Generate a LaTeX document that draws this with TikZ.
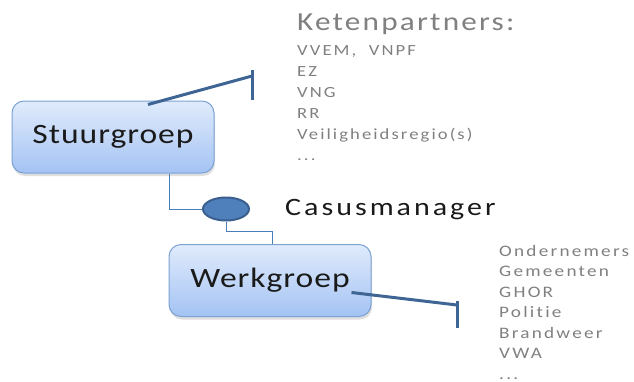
\documentclass[tikz,border=0pt]{standalone}
\usepackage{fontspec}
\setmainfont{Carlito}
% Carlito, widened, with different amounts of tracking
\defaultfontfeatures{Ligatures=NoCommon}
\newfontfamily\trackbox[FakeStretch=1.2,LetterSpace=3.5]{Carlito}
\newfontfamily\trackhead[FakeStretch=1.2,LetterSpace=8.5]{Carlito}
\newfontfamily\trackcm[FakeStretch=1.2,LetterSpace=12]{Carlito}
\newfontfamily\tracklist[FakeStretch=1.2,LetterSpace=13.5]{Carlito}
\newfontfamily\trackwide[FakeStretch=1.2,LetterSpace=14]{Carlito}
\usetikzlibrary{shapes.geometric,shadows}
\definecolor{boxtop}{HTML}{E0EBFC}
\definecolor{boxbot}{HTML}{A4C3F3}
\definecolor{boxline}{HTML}{7CA2D4}
\definecolor{barblue}{HTML}{3E6594}
\definecolor{treeblue}{HTML}{4A7EBB}
\definecolor{dotfill}{HTML}{4F80BC}
\definecolor{dotline}{HTML}{3A5F8E}
\definecolor{listgray}{HTML}{808080}
\definecolor{inkdark}{HTML}{1A1A1A}
\tikzset{
  groupbox/.style={draw=boxline, line width=1pt, rounded corners=12pt,
    top color=boxtop, bottom color=boxbot, minimum width=202pt, minimum height=72pt,
    text=inkdark, font=\trackbox\fontsize{28}{30}\selectfont,
    drop shadow={opacity=0.25, shadow xshift=1pt, shadow yshift=-3pt}},
  tbar/.style={draw=barblue, line width=3pt},
  tree/.style={draw=treeblue, line width=1pt},
  listtext/.style={text=listgray, align=left, inner sep=0pt, anchor=north west},
}
\begin{document}
\begin{tikzpicture}[x=1pt,y=-1pt]
\useasboundingbox (0,0) rectangle (634,381);

% group boxes
\node[groupbox] (stuur) at (113,137) {\raisebox{-2pt}{Stuurgroep}};
\node[groupbox] (werk) at (270,280.5) {\raisebox{-2pt}{Werkgroep}};

% case manager
\node[ellipse, draw=dotline, line width=2pt, fill=dotfill,
      minimum width=46pt, minimum height=23pt, inner sep=0pt] (cm) at (226,209) {};
\node[anchor=west, text=inkdark, inner sep=0pt, font=\trackcm\fontsize{25}{27}\selectfont]
  (cmlabel) at (285,210) {Casusmanager};

% tree connectors
\draw[tree] ([xshift=56pt]stuur.south) |- (cm.west);
\draw[tree] (cm.south) -- ++(0,10) -| ([xshift=2pt]werk.north);

% partner lists
\node[anchor=west, text=listgray, inner sep=0pt, font=\trackhead\fontsize{26}{28}\selectfont]
  (khead) at (297,24) {Ketenpartners:};
\node[listtext, font=\tracklist\fontsize{15.5}{21}\selectfont] (klist) at (297,45)
  {VVEM,\ \ VNPF\\EZ\\VNG\\RR\\Veiligheidsregio(s)\\...};
\node[listtext, font=\trackwide\fontsize{16}{20.5}\selectfont] (wlist) at (499,245)
  {Ondernemers\\Gemeenten\\GHOR\\Politie\\Brandweer\\VWA\\...};

% links to the partner lists
\coordinate (kend) at (252,76);
\coordinate (wend) at (457,305);
\draw[tbar] ([shift={(35,4)}]stuur.north) -- (kend);
\draw[tbar] (252,70) -- (252,100);
\draw[tbar] ([shift={(-20,12)}]werk.east) -- (wend);
\draw[tbar] (457,301) -- (457,328);
\end{tikzpicture}
\end{document}
